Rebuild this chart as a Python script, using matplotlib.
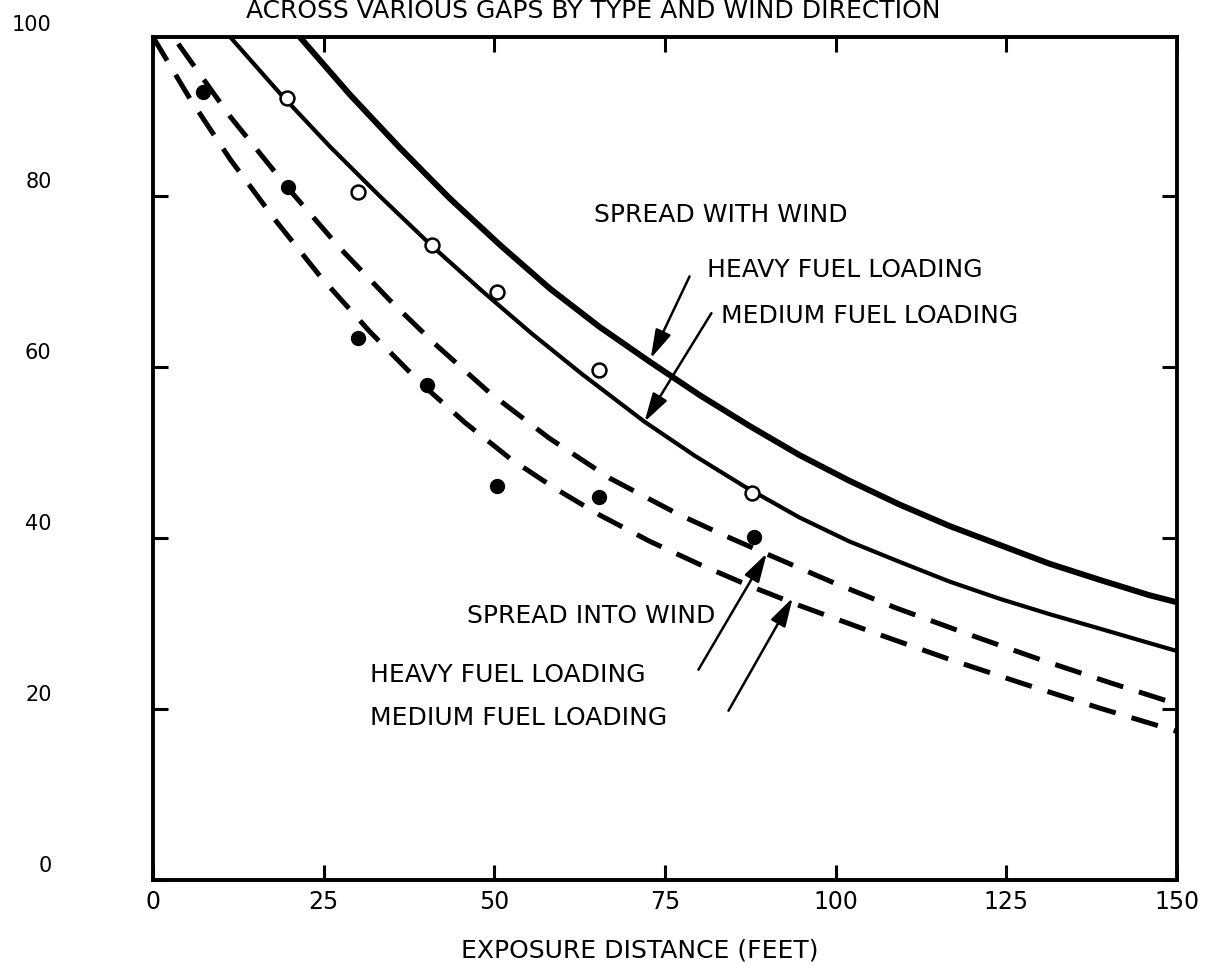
import matplotlib.pyplot as plt
from matplotlib.transforms import ScaledTranslation

plt.rcParams['font.family'] = ['DejaVu Sans']

# spread with wind, heavy fuel loading (thick solid)
wind_heavy_x = [21.5, 28.8, 36.2, 43.5, 50.8, 58.1, 65.4, 72.8, 80.1, 87.4, 94.7,
                102.0, 109.4, 116.7, 124.0, 131.3, 138.7, 146.0, 149.9]
wind_heavy_y = [98.6, 91.9, 85.6, 79.7, 74.3, 69.2, 64.7, 60.6, 56.7, 53.1, 49.7,
                46.7, 43.9, 41.4, 39.2, 37.0, 35.1, 33.3, 32.5]

# spread with wind, medium fuel loading (solid)
wind_med_x = [11.3, 18.6, 25.9, 33.2, 40.8, 48.2, 55.5, 62.8, 72.0, 79.4, 86.7,
              94.7, 102.0, 109.4, 116.7, 124.0, 131.3, 138.7, 146.0, 149.9]
wind_med_y = [98.6, 92.0, 85.8, 80.0, 74.2, 68.9, 63.9, 59.2, 53.6, 49.6, 46.0,
              42.4, 39.6, 37.2, 34.9, 32.9, 31.1, 29.4, 27.7, 26.8]

# spread into wind, heavy fuel loading (upper dashed)
into_heavy_x = [3.7, 11.3, 19.8, 27.4, 34.7, 41.3, 49.3, 58.0, 66.9, 76.9, 83.7,
                90.3, 99.9, 108.9, 119.6, 129.9, 140.1, 149.9]
into_heavy_y = [97.8, 89.3, 80.9, 73.9, 67.8, 62.7, 57.0, 51.7, 47.0, 42.8, 40.3,
                38.0, 34.7, 31.8, 28.7, 25.8, 23.1, 20.6]

# spread into wind, medium fuel loading (lower dashed)
into_med_x = [0.0, 5.4, 11.3, 17.9, 24.5, 31.8, 39.1, 45.7, 52.3, 58.9, 65.4, 72.8,
              80.1, 87.4, 94.7, 105.7, 116.7, 127.7, 138.7, 149.9]
into_med_y = [98.6, 91.4, 84.3, 77.2, 70.6, 64.1, 58.2, 53.5, 49.3, 45.8, 42.7, 39.6,
              36.9, 34.4, 32.1, 28.9, 25.8, 22.9, 20.1, 17.4]

# observed points
open_x = [19.6, 30.0, 40.8, 50.4, 65.3, 87.8]
open_y = [91.5, 80.5, 74.3, 68.8, 59.6, 45.3]
filled_x = [7.3, 19.8, 30.0, 40.1, 50.4, 65.4, 88.1]
filled_y = [92.2, 81.1, 63.4, 57.9, 46.1, 44.8, 40.1]

x_ticks = [0, 25, 50, 75, 100, 125, 150]
y_ticks = [0, 20, 40, 60, 80]

fig = plt.figure(figsize=(12.11, 9.68), dpi=100)
ax = fig.add_axes([0.12634, 0.09091, 0.84558, 0.87087])

ax.plot(wind_heavy_x, wind_heavy_y, color='k', lw=4.3, solid_capstyle='butt')
ax.plot(wind_med_x, wind_med_y, color='k', lw=3.0, solid_capstyle='butt')
ax.plot(into_heavy_x, into_heavy_y, color='k', lw=3.6, linestyle=(0, (5.5, 3.3)))
ax.plot(into_med_x, into_med_y, color='k', lw=3.6, linestyle=(0, (5.5, 3.3)))

ax.plot(open_x, open_y, 'o', ms=10, mfc='white', mec='k', mew=1.8, zorder=5)
ax.plot(filled_x, filled_y, 'o', ms=10, mfc='k', mec='k', zorder=5)

ax.set_xlim(0, 150)
ax.set_ylim(0, 98.6)
ax.set_xticks(x_ticks)
ax.set_yticks(y_ticks)
ax.tick_params(direction='in', length=11, width=2.2, top=True, right=True)
ax.tick_params(axis='y', pad=73, labelsize=15)
ax.tick_params(axis='x', pad=7, labelsize=17)
for sp in ax.spines.values():
    sp.set_linewidth(2.8)

# hand-lettered y labels sit a little above their ticks
shift = ScaledTranslation(0, 0.16, fig.dpi_scale_trans)
for lbl in ax.get_yticklabels():
    lbl.set_transform(lbl.get_transform() + shift)
ax.annotate('100', xy=(0, 100), xycoords=('axes fraction', 'data'),
            xytext=(-73, 0), textcoords='offset points',
            ha='right', va='center', fontsize=15, annotation_clip=False)

ax.set_xlabel('EXPOSURE DISTANCE (FEET)', fontsize=18, va='center')
ax.xaxis.set_label_coords(0.4756, -0.0842)

fig.text(593 / 1211, 1 - 18 / 968, 'ACROSS VARIOUS GAPS BY TYPE AND WIND DIRECTION',
         ha='center', va='baseline', fontsize=18)

txt = dict(fontsize=18, ha='left', va='baseline')
ax.text(64.6, 77.0, 'SPREAD WITH WIND', **txt)
ax.text(81.1, 70.5, 'HEAVY FUEL LOADING', **txt)
ax.text(83.2, 65.1, 'MEDIUM FUEL LOADING', **txt)
ax.text(46.0, 30.1, 'SPREAD INTO WIND', **txt)
ax.text(31.8, 23.2, 'HEAVY FUEL LOADING', **txt)
ax.text(31.8, 18.1, 'MEDIUM FUEL LOADING', **txt)

arrow = dict(arrowstyle='-|>,head_length=0.7,head_width=0.2', mutation_scale=25,
             lw=1.8, color='k', shrinkA=0, shrinkB=0)
ax.annotate('', xy=(72.9, 61.0), xytext=(78.6, 70.6), arrowprops=arrow)
ax.annotate('', xy=(72.0, 53.6), xytext=(81.8, 66.3), arrowprops=arrow)
ax.annotate('', xy=(89.9, 38.2), xytext=(79.9, 24.6), arrowprops=arrow)
ax.annotate('', xy=(93.7, 33.0), xytext=(84.3, 19.8), arrowprops=arrow)

fig.savefig('out.png', dpi=100)
